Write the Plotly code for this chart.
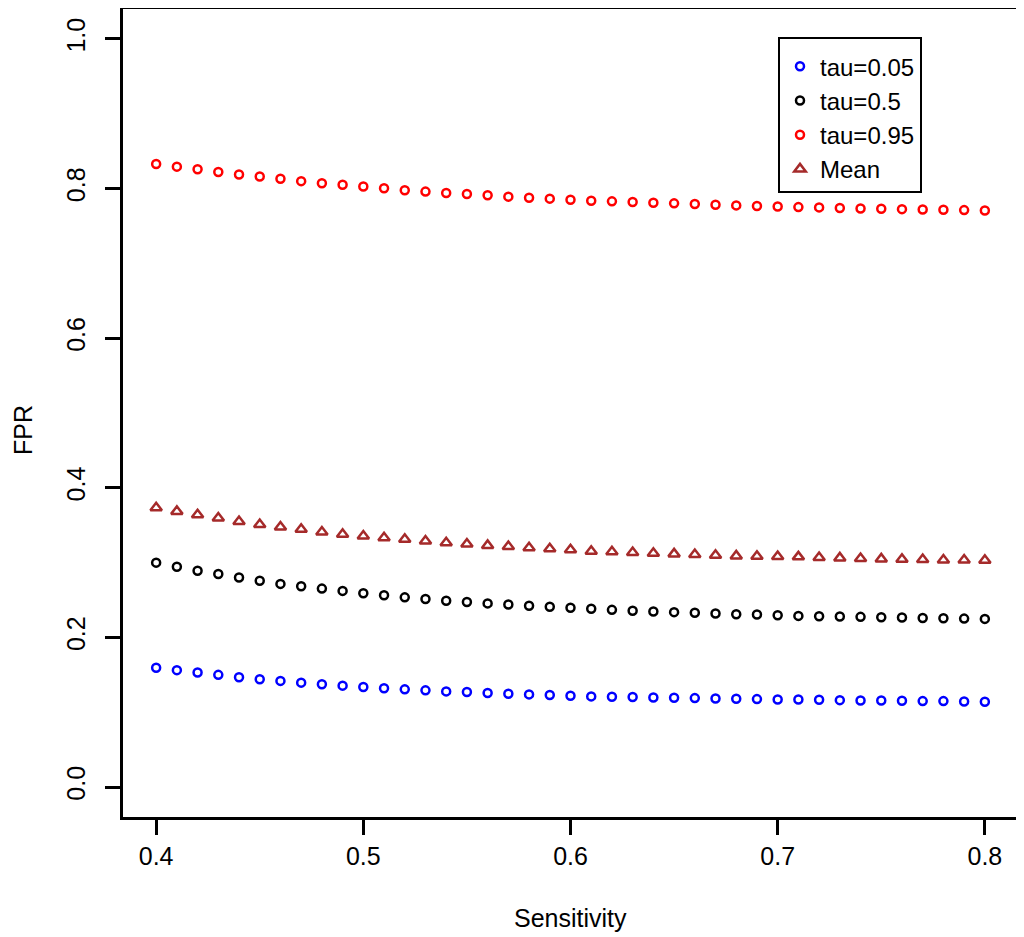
import plotly.graph_objects as go

sensitivity = [round(0.40 + 0.01 * i, 2) for i in range(41)]

tau_005 = [0.1595, 0.1563, 0.1532, 0.1500, 0.1468, 0.1441, 0.1419, 0.1396, 0.1374, 0.1356,
           0.1338, 0.1320, 0.1306, 0.1293, 0.1279, 0.1270, 0.1257, 0.1248, 0.1239, 0.1230,
           0.1221, 0.1212, 0.1207, 0.1203, 0.1198, 0.1194, 0.1189, 0.1185, 0.1180, 0.1176,
           0.1171, 0.1171, 0.1167, 0.1162, 0.1158, 0.1158, 0.1153, 0.1149, 0.1149, 0.1144,
           0.1140]
tau_05 = [0.3000, 0.2946, 0.2892, 0.2847, 0.2802, 0.2757, 0.2716, 0.2685, 0.2653, 0.2622,
          0.2590, 0.2563, 0.2536, 0.2514, 0.2491, 0.2473, 0.2455, 0.2441, 0.2423, 0.2410,
          0.2396, 0.2383, 0.2369, 0.2356, 0.2347, 0.2338, 0.2329, 0.2320, 0.2311, 0.2306,
          0.2297, 0.2288, 0.2284, 0.2279, 0.2275, 0.2270, 0.2266, 0.2261, 0.2257, 0.2252,
          0.2248]
tau_095 = [0.8329, 0.8293, 0.8257, 0.8221, 0.8189, 0.8162, 0.8131, 0.8099, 0.8072, 0.8050,
           0.8027, 0.8005, 0.7977, 0.7959, 0.7941, 0.7928, 0.7910, 0.7892, 0.7878, 0.7865,
           0.7851, 0.7838, 0.7829, 0.7820, 0.7811, 0.7802, 0.7793, 0.7784, 0.7775, 0.7766,
           0.7761, 0.7752, 0.7748, 0.7739, 0.7734, 0.7730, 0.7725, 0.7721, 0.7716, 0.7712,
           0.7707]
mean_fpr = [0.3734, 0.3685, 0.3640, 0.3595, 0.3550, 0.3509, 0.3477, 0.3446, 0.3410, 0.3378,
            0.3356, 0.3333, 0.3311, 0.3288, 0.3266, 0.3248, 0.3230, 0.3216, 0.3198, 0.3185,
            0.3171, 0.3153, 0.3144, 0.3135, 0.3126, 0.3117, 0.3108, 0.3099, 0.3090, 0.3086,
            0.3081, 0.3077, 0.3068, 0.3063, 0.3054, 0.3050, 0.3045, 0.3041, 0.3036, 0.3036,
            0.3032]

x_ticks = [0.4, 0.5, 0.6, 0.7, 0.8]
x_tick_labels = ["0.4", "0.5", "0.6", "0.7", "0.8"]
y_ticks = [0.0, 0.2, 0.4, 0.6, 0.8, 1.0]
y_tick_labels = ["0.0", "0.2", "0.4", "0.6", "0.8", "1.0"]

FONT = "Liberation Sans, Arial, sans-serif"
FS = 25

series = [
    ("tau=0.05", tau_005, "#0000FF", "circle-open"),
    ("tau=0.5", tau_05, "#000000", "circle-open"),
    ("tau=0.95", tau_095, "#FF0000", "circle-open"),
    ("Mean", mean_fpr, "#A52A2A", "triangle-up-open"),
]

fig = go.Figure()
for name, vals, color, sym in series:
    fig.add_trace(go.Scatter(
        x=sensitivity, y=vals, mode="markers", name=name,
        marker=dict(symbol=sym, size=8 if sym.startswith("circle") else 10,
                    color=color, line=dict(color=color, width=2.5)),
    ))

# page has an 8px body margin; compensate so the plot lands where the reference has it
OFF = 8
W, H = 1024 - OFF, 937 - OFF
L, R, T, B = 123 - OFF, 6, 9 - OFF, 128 - OFF
pw, ph = W - L - R, H - T - B


def px_x(page_x):
    return (page_x - OFF - L) / pw


def px_y(page_y):
    return 1 - (page_y - OFF - T) / ph


fig.update_layout(
    width=W, height=H,
    margin=dict(l=L, r=R, t=T, b=B, autoexpand=False),
    paper_bgcolor="white", plot_bgcolor="white",
    font=dict(family=FONT, size=FS, color="black"),
    showlegend=True,
    legend=dict(
        x=px_x(778), y=px_y(37), xanchor="left", yanchor="top",
        bordercolor="black", borderwidth=2, bgcolor="white",
        font=dict(family=FONT, size=24, color="black"),
        title=dict(text=" ", font=dict(size=4)),
        tracegroupgap=0, itemsizing="trace",
    ),
    xaxis=dict(
        range=[0.384, 0.816], tickmode="array", tickvals=x_ticks, ticktext=x_tick_labels,
        showgrid=False, zeroline=False, showline=True, linecolor="black", linewidth=2.5,
        mirror=True, ticks="outside", ticklen=15, tickwidth=2.5, tickcolor="black",
        ticklabelstandoff=0, automargin=False,
        tickfont=dict(family=FONT, size=FS),
    ),
    yaxis=dict(
        range=[-0.04, 1.04], tickmode="array", tickvals=y_ticks, ticktext=y_tick_labels,
        showgrid=False, zeroline=False, showline=True, linecolor="black", linewidth=2.5,
        mirror=True, ticks="outside", ticklen=15, tickwidth=2.5, tickcolor="black",
        tickangle=-90, ticklabelstandoff=10, automargin=False,
        tickfont=dict(family=FONT, size=FS),
    ),
    annotations=[
        dict(text="Sensitivity", xref="paper", yref="paper",
             x=px_x(570), y=px_y(918), xanchor="center", yanchor="middle",
             showarrow=False, font=dict(family=FONT, size=FS)),
        dict(text="FPR", xref="paper", yref="paper", textangle=-90,
             x=px_x(23), y=px_y(430), xanchor="center", yanchor="middle",
             showarrow=False, font=dict(family=FONT, size=FS)),
    ],
)

fig.write_html("out.html")
